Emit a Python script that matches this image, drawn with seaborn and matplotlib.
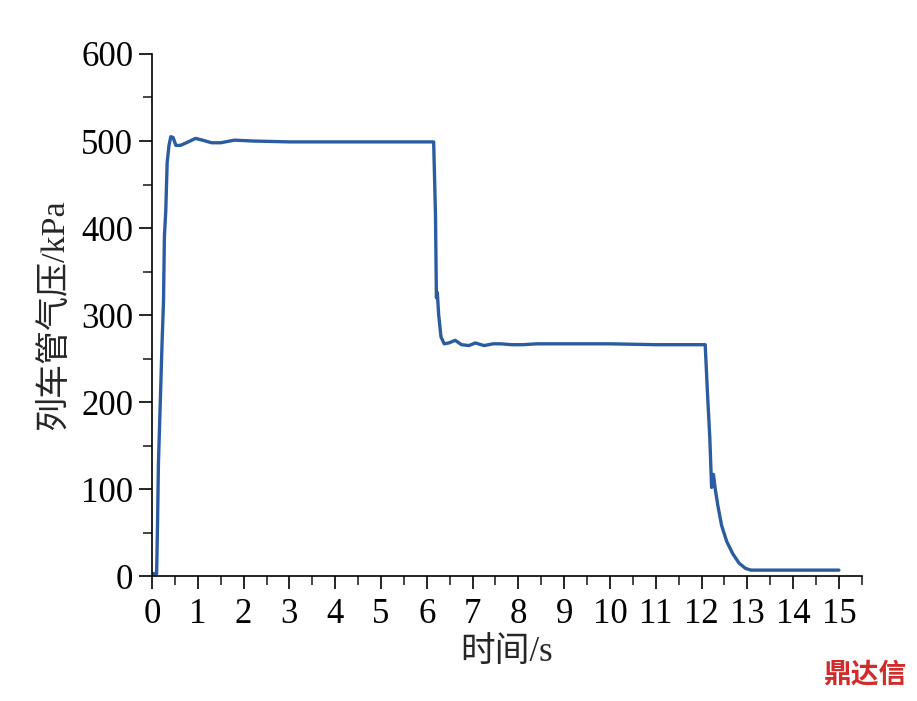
import numpy as np
import pandas as pd
import seaborn as sns
import matplotlib.pyplot as plt

# pressure trace
time_s = [0.0, 0.10, 0.12, 0.14, 0.18, 0.22, 0.25, 0.27, 0.30, 0.33, 0.37, 0.41, 0.46, 0.52,
          0.62, 0.75, 0.95, 1.10, 1.30, 1.50, 1.80, 2.20, 3.0, 4.0, 5.0, 6.15,
          6.19, 6.21, 6.23, 6.26, 6.31, 6.38, 6.48, 6.62, 6.76, 6.92, 7.06, 7.25, 7.45, 7.62,
          7.85, 8.10, 8.40, 9.0, 10.0, 11.0, 12.08,
          12.13, 12.18, 12.22, 12.26, 12.30, 12.36, 12.44, 12.55, 12.68, 12.82, 12.96, 13.08,
          14.0, 15.0]
pressure = [3, 3, 60, 130, 200, 270, 315, 390, 420, 475, 495, 505, 504, 495,
            495, 498, 503, 501, 498, 498, 501, 500, 499, 499, 499, 499,
            415, 320, 326, 300, 275, 267, 268, 271, 266, 265, 268, 265, 267, 267,
            266, 266, 267, 267, 267, 266, 266,
            210, 160, 102, 117, 100, 80, 58, 40, 26, 15, 9, 7,
            7, 7]

df = pd.DataFrame({"t": time_s, "p": pressure})

sns.set_style("ticks")
plt.rcParams['font.family'] = ['Liberation Serif', 'Noto Sans CJK SC']
plt.rcParams['axes.unicode_minus'] = False

fig = plt.figure(figsize=(9.17, 7.01), dpi=100)
ax = fig.add_axes([0.1658, 0.178, 0.774, 0.745])

sns.lineplot(data=df, x="t", y="p", ax=ax, color="#2b5c9f", linewidth=2.4, sort=False)

ax.set_xlim(0, 15.5)
ax.set_ylim(0, 600)
ax.set_xticks(range(0, 16))
ax.set_xticks(np.arange(0.5, 15.6, 1.0), minor=True)
ax.set_yticks(range(0, 601, 100))
ax.set_yticks(range(50, 600, 100), minor=True)
ax.tick_params(axis="both", which="major", labelsize=25, length=9.5, width=1.2, colors="black")
ax.tick_params(axis="x", which="major", pad=6)
ax.tick_params(axis="y", which="major", pad=4)
ax.tick_params(axis="both", which="minor", length=6.5, width=1.2)
for s in ["top", "right"]:
    ax.spines[s].set_visible(False)
for s in ["left", "bottom"]:
    ax.spines[s].set_linewidth(1.2)
    ax.spines[s].set_color("black")

ax.set_xlabel("时间/s", fontsize=25, labelpad=4)
ax.set_ylabel("列车管气压/kPa", fontsize=24.5, labelpad=8)

# watermark
fig.text(0.988, 0.018, "鼎达信", color="#d22b2b", fontsize=20, fontweight="bold",
         ha="right", va="bottom", family=["Noto Sans CJK SC"])

fig.savefig("out.png", dpi=100)
